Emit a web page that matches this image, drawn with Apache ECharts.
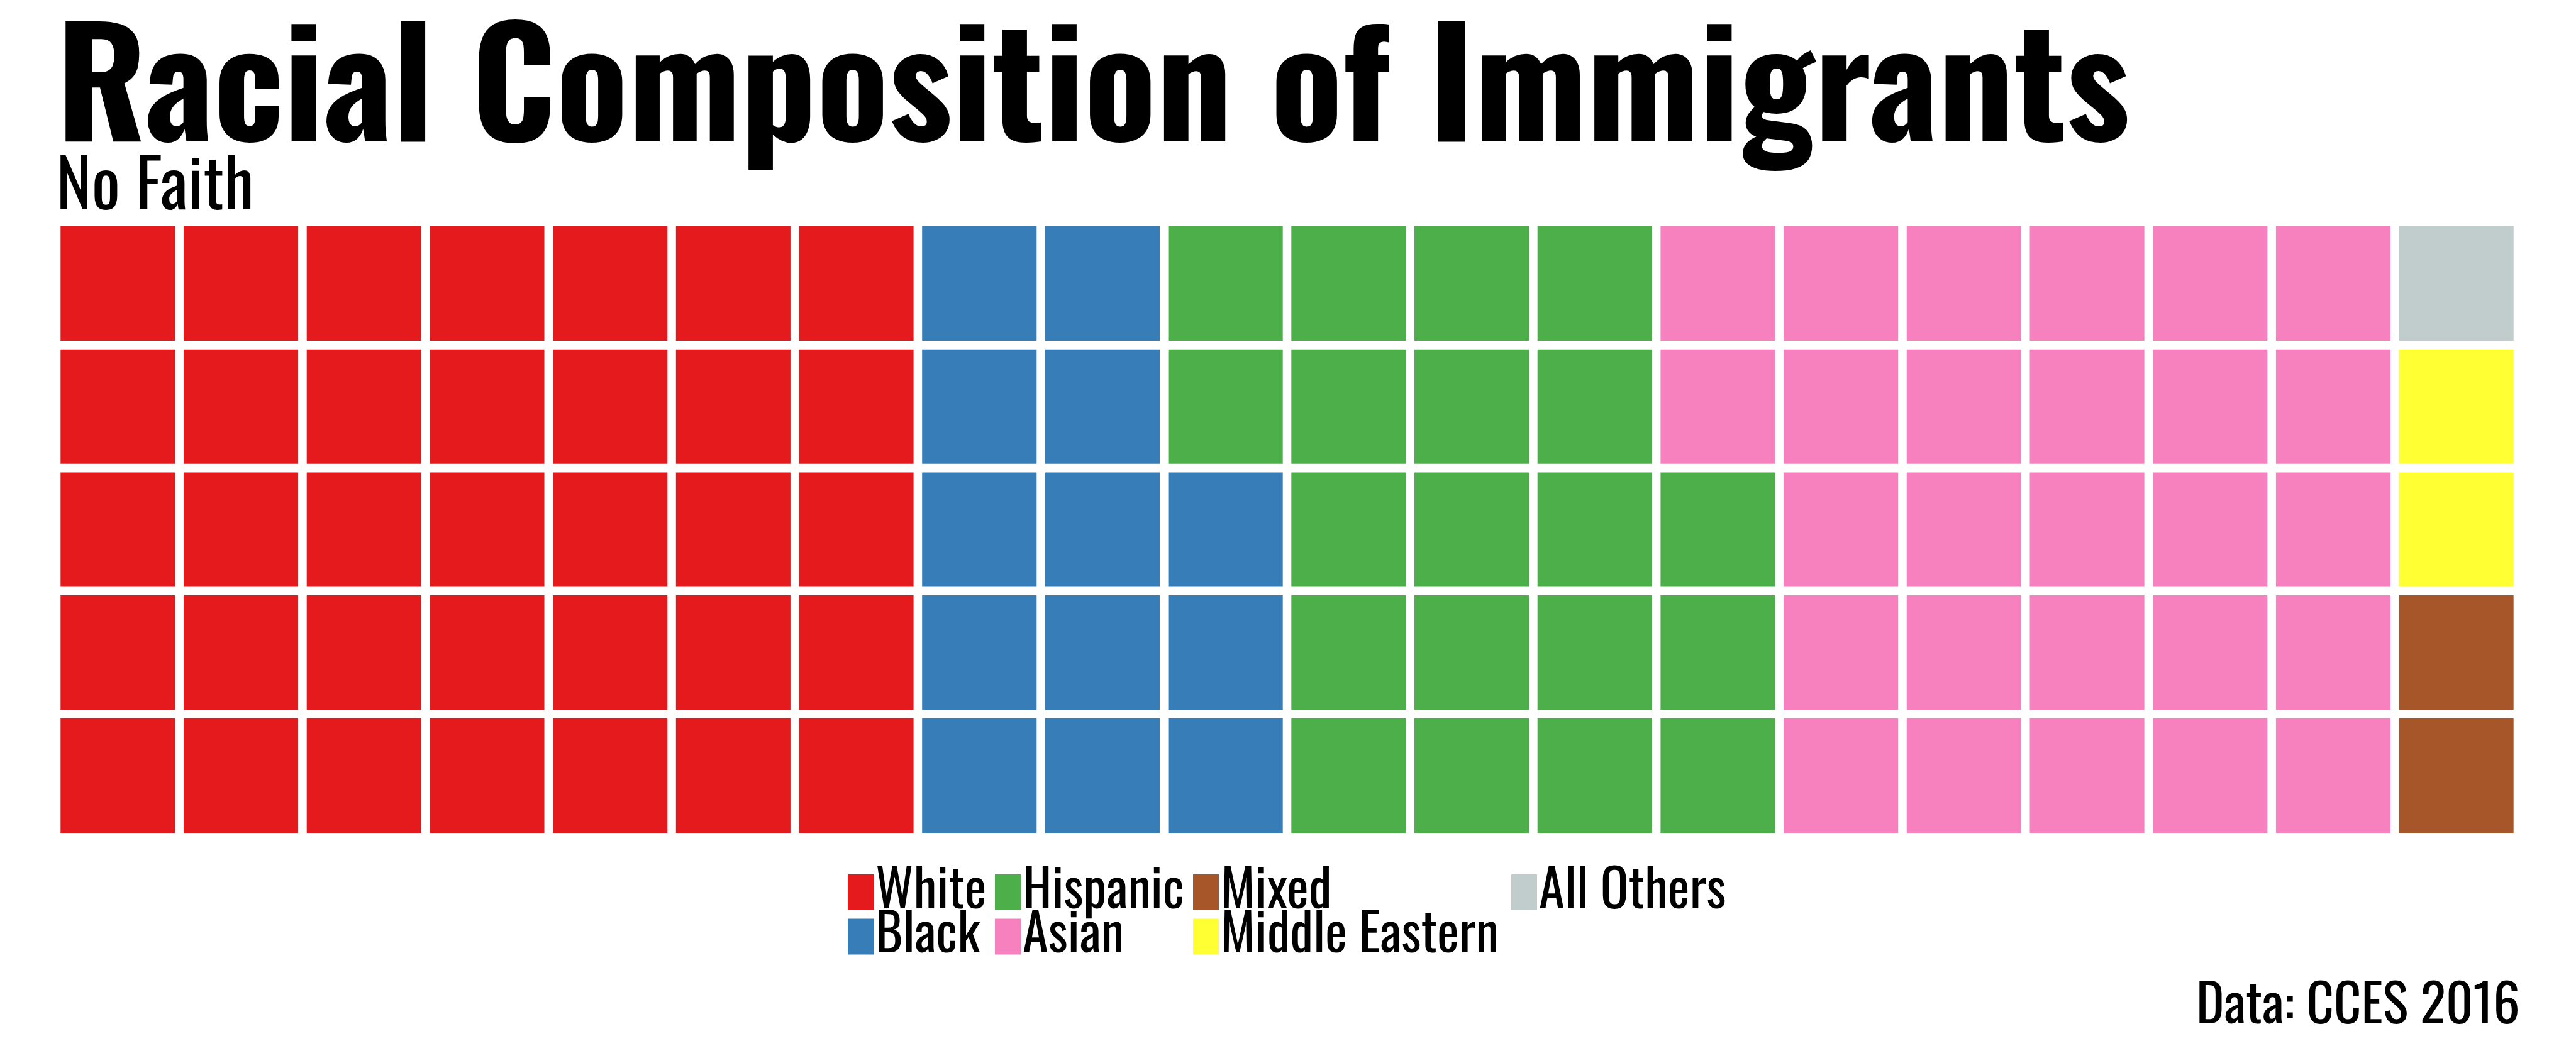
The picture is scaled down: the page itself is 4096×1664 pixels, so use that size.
<!DOCTYPE html>
<html>
<head>
<meta charset="utf-8">
<script src="https://cdn.jsdelivr.net/npm/echarts@6/dist/echarts.min.js"></script>
<style>
html,body{margin:0;padding:0;background:#fff;}
#chart{width:4096px;height:1664px;}
</style>
</head>
<body>
<div id="chart"></div>
<script>
// ---- data ----
const categories = ['White', 'Black', 'Hispanic', 'Asian', 'Mixed', 'Middle Eastern', 'All Others'];
const counts = [35, 13, 20, 27, 2, 2, 1];
const colors = ['#E41A1C', '#377EB8', '#4DAF4A', '#F781BF', '#A65628', '#FFFF33', '#C1CDCD'];
const columns = ['1','2','3','4','5','6','7','8','9','10','11','12','13','14','15','16','17','18','19','20'];
const rows = ['1','2','3','4','5'];
const titleText = 'Racial Composition of Immigrants';
const subtitleText = 'No Faith';
const captionText = 'Data: CCES 2016';

const FAMILY = 'Oswald';
const GAP = 13.6;

const mctx = document.createElement('canvas').getContext('2d');
function capRatio(weight) {
  mctx.font = weight + " 100px 'Oswald', sans-serif";
  mctx.textBaseline = 'alphabetic';
  return mctx.measureText('H').actualBoundingBoxAscent / 100;
}
function fitText(text, weight, left, right, baseline, capH) {
  const fs = capH / capRatio(weight);
  mctx.font = weight + ' ' + fs + "px 'Oswald', sans-serif";
  mctx.textBaseline = 'alphabetic';
  const m = mctx.measureText(text);
  const capPx = mctx.measureText('H').actualBoundingBoxAscent;
  mctx.textBaseline = 'middle';
  const aM = mctx.measureText('H').actualBoundingBoxAscent;
  const ink = m.actualBoundingBoxLeft + m.actualBoundingBoxRight;
  const s = (right - left) / ink;
  const x0 = left + m.actualBoundingBoxLeft * s;
  const y0 = baseline - (capPx - aM) - fs / 2;
  return {
    type: 'text', x: x0, y: y0, scaleX: s, scaleY: 1, silent: true,
    style: { text: text, fontFamily: FAMILY, fontWeight: weight, fontSize: fs, lineHeight: fs,
             fill: '#000', align: 'left', verticalAlign: 'top' }
  };
}

let k = 0;
const series = categories.map((name, i) => {
  const cells = [];
  for (let j = 0; j < counts[i]; j++) {
    cells.push([Math.floor(k / rows.length), k % rows.length]);
    k++;
  }
  return {
    name: name, type: 'custom', itemStyle: { color: colors[i] }, encode: { x: 0, y: 1 }, data: cells,
    renderItem: function (params, api) {
      const c = api.coord([api.value(0), api.value(1)]);
      const s = api.size([1, 1]);
      return { type: 'rect',
        shape: { x: c[0] - s[0] / 2 + GAP / 2, y: c[1] - s[1] / 2 + GAP / 2, width: s[0] - GAP, height: s[1] - GAP },
        style: { fill: api.visual('color') } };
    }
  };
});

const legendFontSize = 68 / capRatio('normal');
const itemH = Math.max(57, legendFontSize);
const legendCols = [[0, 1], [2, 3], [4, 5], [6]];
const legendLefts = [1348, 1582, 1897, 2403];
const legends = legendCols.map((idx, c) => ({
  data: idx.map(i => categories[i]), orient: 'vertical', left: legendLefts[c], top: 1391 - (itemH - 57) / 2, height: 400,
  icon: 'rect', itemWidth: 41, itemHeight: 57, itemGap: 70.5 - itemH, padding: 0,
  textStyle: { fontFamily: FAMILY, fontWeight: 'normal', fontSize: legendFontSize, color: '#000', padding: [0, 0, 0, -2] }
}));

const chart = echarts.init(document.getElementById('chart'), null, { renderer: 'canvas' });
chart.setOption({
  backgroundColor: '#ffffff', animation: false, color: colors,
  graphic: [
    fitText(titleText, 'bold', 104, 3383, 225, 192),
    fitText(subtitleText, 'normal', 95.5, 398.7, 333, 86),
    fitText(captionText, 'normal', 3497, 4003, 1628, 68)
  ],
  legend: legends,
  grid: { left: 89.5, top: 353.2, width: 3914, height: 978.5 },
  xAxis: { type: 'category', data: columns, show: false },
  yAxis: { type: 'category', data: rows, show: false },
  series: series
});
</script>
</body>
</html>
